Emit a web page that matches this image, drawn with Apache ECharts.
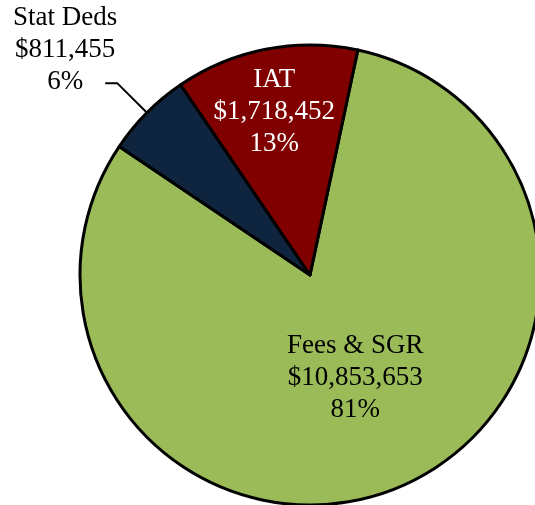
<!DOCTYPE html>
<html>
<head>
<meta charset="utf-8">
<script src="https://cdn.jsdelivr.net/npm/echarts@6/dist/echarts.min.js"></script>
<style>
  html, body { margin: 0; padding: 0; background: #fff; }
  #chart { width: 535px; height: 505px; }
</style>
</head>
<body>
<div id="chart"></div>
<script>
// data
var names = ['Fees & SGR', 'Stat Deds', 'IAT'];
var amounts = ['$10,853,653', '$811,455', '$1,718,452'];
var values = [10853653, 811455, 1718452];
var percents = ['81%', '6%', '13%'];
var colors = ['#9BBB59', '#0F243E', '#800000'];
var textColors = ['#000', '#000', '#fff'];

var chart = echarts.init(document.getElementById('chart'));

var data = names.map(function (n, i) {
  var d = {
    name: n,
    value: values[i],
    itemStyle: { color: colors[i] },
    label: { color: textColors[i] }
  };
  if (i === 1) {
    // Stat Deds sits outside with a leader line
    d.label.position = 'outside';
    d.labelLine = { show: true, length: 42, length2: 12, lineStyle: { color: '#000', width: 2 } };
  }
  return d;
});

var option = {
  animation: false,
  series: [{
    type: 'pie',
    center: [310, 275],
    radius: 230,
    startAngle: 78,
    clockwise: true,
    avoidLabelOverlap: false,
    itemStyle: { borderColor: '#000', borderWidth: 3 },
    label: {
      show: true,
      position: 'inside',
      fontFamily: 'Liberation Serif',
      fontSize: 27,
      lineHeight: 32,
      align: 'center',
      formatter: function (p) {
        return names[p.dataIndex] + '\n' + amounts[p.dataIndex] + '\n' + percents[p.dataIndex];
      }
    },
    labelLine: { show: false },
    labelLayout: function (p) {
      if (p.dataIndex === 0) {
        return { dx: 1, dy: -6 };
      }
      if (p.dataIndex === 2) {
        return { dx: -13, dy: -47 };
      }
      if (p.dataIndex === 1 && p.labelLinePoints) {
        var end = p.labelLinePoints[2];
        return {
          x: end[0] - 40,
          y: end[1] - 33,
          align: 'center',
          verticalAlign: 'middle',
          labelLinePoints: p.labelLinePoints
        };
      }
      return {};
    },
    data: data
  }]
};

chart.setOption(option);
</script>
</body>
</html>
